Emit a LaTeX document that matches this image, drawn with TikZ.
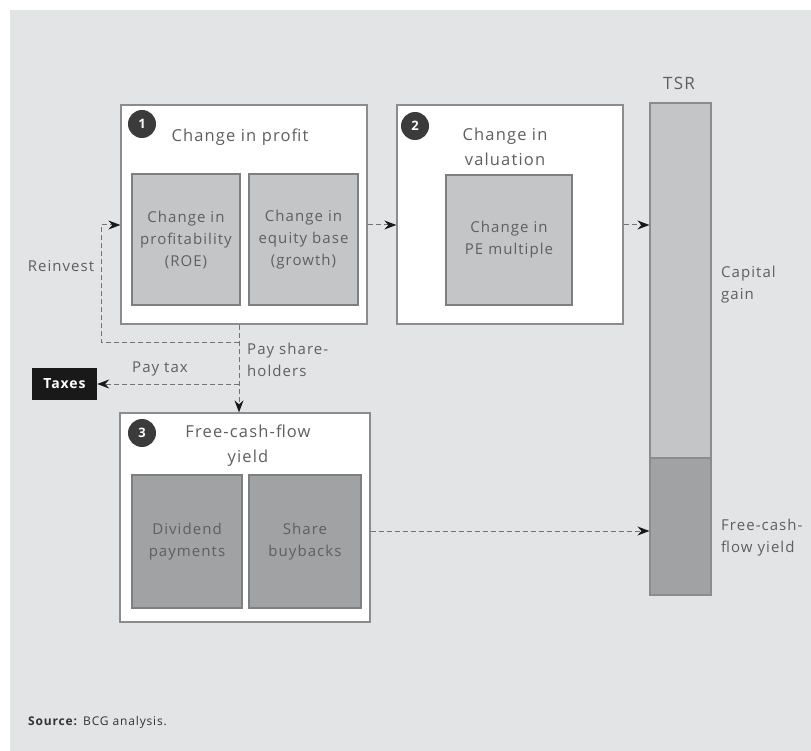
\documentclass[tikz,border=0pt]{standalone}
\usepackage{fontspec}
\setmainfont{Open Sans}[LetterSpace=7]
\usetikzlibrary{arrows.meta}
\definecolor{bgc}{HTML}{E3E4E6}
\definecolor{bordc}{HTML}{8C8C8E}
\definecolor{inbord}{HTML}{7E7F81}
\definecolor{lightf}{HTML}{C4C5C7}
\definecolor{darkf}{HTML}{A1A2A4}
\definecolor{txtc}{HTML}{5E5F60}
\definecolor{lnc}{HTML}{727374}
\definecolor{badgec}{HTML}{3B3B3C}
\tikzset{
  outerbox/.style={draw=bordc, fill=white, line width=1.3pt, inner sep=0pt, rectangle},
  innerbox/.style={draw=inbord, line width=1.1pt, inner sep=0pt, rectangle, text=txtc,
    align=center, font=\fontsize{15}{22}\selectfont},
  lightbox/.style={innerbox, fill=lightf},
  darkbox/.style={innerbox, fill=darkf},
  titletext/.style={text=txtc, align=center, font=\fontsize{16.5}{25}\selectfont, inner sep=0pt},
  labeltext/.style={text=txtc, font=\fontsize{15}{22}\selectfont, inner sep=0pt},
  badge/.style={circle, fill=badgec, text=white, minimum size=28pt, inner sep=0pt,
    font=\bfseries\fontsize{13}{13}\selectfont},
  conn/.style={draw=lnc, line width=1pt, dash pattern=on 5pt off 3pt,
    -{Stealth[length=12pt, width=9pt, inset=4pt, color=black!90]}}
}
\begin{document}
\begin{tikzpicture}[x=1pt, y=-1pt]
\useasboundingbox (0,0) rectangle (811,751);
\fill[bgc] (10,10) rectangle (811,751);

% box 1
\node[outerbox, minimum width=246pt, minimum height=219pt] (b1) at (244,214.5) {};
\node[lightbox, minimum width=108pt, minimum height=131pt] (b1a) at (186,239.5) {Change in\\profitability\\(ROE)};
\node[lightbox, minimum width=109pt, minimum height=131pt] (b1b) at (303.5,239.5) {Change in\\equity base\\(growth)};
\node[titletext] (t1) at (240,137) {Change in profit};
\node[badge] (n1) at (142,124) {1};

% box 2
\node[outerbox, minimum width=226pt, minimum height=219pt] (b2) at (510,214.5) {};
\node[lightbox, minimum width=126pt, minimum height=130pt] (b2a) at (509,240) {Change in\\PE multiple};
\node[titletext] (t2) at (505,147) {Change in\\valuation};
\node[badge] (n2) at (415,126) {2};

% box 3
\node[outerbox, minimum width=250pt, minimum height=209pt] (b3) at (245,517.5) {};
\node[darkbox, minimum width=110pt, minimum height=133pt] (b3a) at (187,541.5) {Dividend\\payments};
\node[darkbox, minimum width=112pt, minimum height=133pt] (b3b) at (305,541.5) {Share\\buybacks};
\node[titletext] (t3) at (248,446) {Free-cash-flow\\yield};
\node[badge] (n3) at (142,433) {3};

% TSR bar
\node[draw=bordc, fill=lightf, line width=1.1pt, inner sep=0pt, minimum width=61pt, minimum height=355pt] (tsr1) at (680.5,280.5) {};
\node[draw=bordc, fill=darkf, line width=1.1pt, inner sep=0pt, minimum width=61pt, minimum height=137pt] (tsr2) at (680.5,526.5) {};
\node[labeltext, font=\fontsize{17}{22}\selectfont] (tsr) at (679,83) {TSR};
\node[labeltext, anchor=west, align=left] (cg) at (721,285) {Capital\\gain};
\node[labeltext, anchor=west, align=left] (fcf) at (721,538) {Free-cash-\\flow yield};

% Taxes
\node[fill=black!90, text=white, inner sep=0pt, minimum width=65pt, minimum height=32pt,
  font=\bfseries\fontsize{14}{14}\selectfont] (tax) at (64.5,384) {Taxes};

% labels
\node[labeltext] (rein) at (61,266) {Reinvest};
\node[labeltext] (ptax) at (160,369) {Pay tax};
\node[labeltext, anchor=west, align=left] (psh) at (247,360) {Pay share-\\holders};
\node[text=black!80, anchor=west, inner sep=0pt, font=\fontsize{12}{14}\selectfont] (src) at (28,722) {\textbf{Source:} BCG analysis.};

% connectors
\coordinate (r1) at (0,225);
\coordinate (r2) at (0,531);
\coordinate (cx) at (239,0);
\coordinate (ri) at (101,342);
\draw[conn] (b1.east|-r1) -- (b2.west|-r1);
\draw[conn] (b2.east|-r1) -- (tsr1.west|-r1);
\draw[conn] (b3.east|-r2) -- (tsr2.west|-r2);
\draw[conn] (b1.south-|cx) -- (b3.north-|cx);
\draw[conn] (tax.east-|cx) -- (tax.east);
\draw[conn] (ri-|cx) -- (ri) |- (b1.west|-r1);
\end{tikzpicture}
\end{document}
